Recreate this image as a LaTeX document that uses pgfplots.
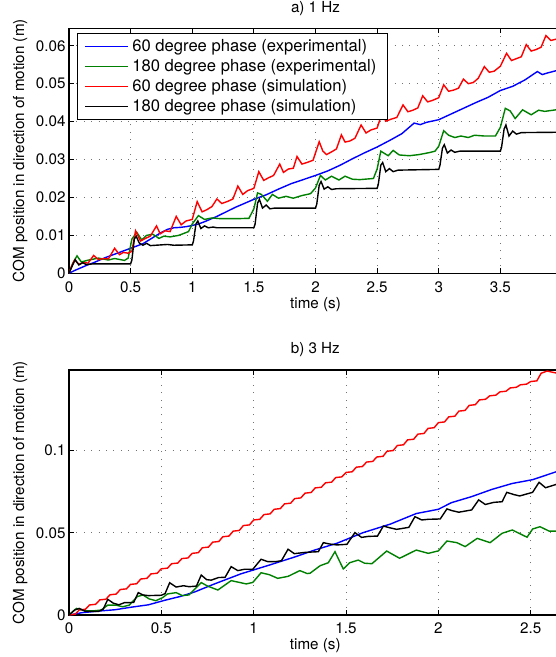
\documentclass[border=0pt]{standalone}
\usepackage{fontspec}
\setmainfont{TeX Gyre Heros}
\usepackage{pgfplots}
\pgfplotsset{compat=1.18}
\definecolor{mgreen}{rgb}{0,0.5,0}
\newcommand\legfont{\fontsize{16.6}{19}\selectfont}
\pgfplotsset{
  myaxis/.style={
    scale only axis, height=245pt,
    font=\fontsize{15.2}{17.5}\selectfont,
    /pgf/number format/assume math mode=true,
    tick align=inside, tick pos=both, major tick length=5pt,
    xmajorgrids, ymajorgrids,
    grid style={line width=0.9pt, dash pattern=on 0.9pt off 6.5pt, black!55},
    axis line style={line width=1.1pt},
    every tick/.style={black, line width=0.8pt},
    scaled ticks=false,
    yticklabel style={/pgf/number format/fixed, /pgf/number format/precision=2},
    xticklabel style={/pgf/number format/fixed, /pgf/number format/precision=1, yshift=-4.5pt},
    xlabel={time (s)},
    ylabel={COM position in direction of motion (m)},
    xlabel style={at={(axis description cs:0.5,-0.1265)}, anchor=center},
    title style={at={(axis description cs:0.5,1.057)}, anchor=center},
  }
}
\begin{document}
\begin{tikzpicture}
\useasboundingbox (0,0) rectangle (556pt,657pt);
% ---------------- a) 1 Hz
\begin{axis}[myaxis, at={(69pt,383.7pt)}, anchor=south west,
  width=493pt, xmin=0, xmax=4, ymin=0, ymax=0.0646,
  xtick={0,0.5,...,3.5}, ytick={0,0.01,...,0.06},
  ylabel style={at={(axis description cs:-0.0994,0.5)}, anchor=center},
  title={a) 1 Hz},
  legend style={at={(axis description cs:0.0168,0.9796)}, anchor=north west,
    inner xsep=7pt, inner ysep=3pt,
    nodes={inner xsep=3.5pt, inner ysep=3.2pt}, row sep=0pt,
    font=\legfont},
  legend cell align=left,
  legend image code/.code={\draw[#1] (0pt,0pt) -- (43pt,0pt);},
]
\addlegendimage{color=blue, line width=1.4pt}
\addlegendentry{\legfont 60 degree phase (experimental)}
\addlegendimage{color=mgreen, line width=1.4pt}
\addlegendentry{\legfont 180 degree phase (experimental)}
\addlegendimage{color=red, line width=1.4pt}
\addlegendentry{\legfont 60 degree phase (simulation)}
\addlegendimage{color=black, line width=1.4pt}
\addlegendentry{\legfont 180 degree phase (simulation)}
\addplot[blue, line width=1.4pt, forget plot] coordinates {
(0,0) (0.05,0.0008) (0.1,0.0015) (0.15,0.0022) (0.2,0.0028) (0.25,0.0035) (0.3,0.0042) (0.35,0.0048) (0.4,0.0054) (0.45,0.0060) (0.5,0.0066) (0.55,0.0072) (0.6,0.0078) (0.65,0.0088) (0.7,0.0098) (0.75,0.0108) (0.8,0.0116) (0.85,0.0120) (0.9,0.0121) (0.95,0.0123) (1.0,0.0126) (1.05,0.0130) (1.1,0.0136) (1.15,0.0143) (1.2,0.0150) (1.25,0.0158) (1.3,0.0166) (1.35,0.0174) (1.4,0.0181) (1.45,0.0188) (1.5,0.0195) (1.6,0.0207) (1.7,0.0222) (1.8,0.0236) (1.9,0.0247) (2.0,0.0258) (2.1,0.0270) (2.2,0.0285) (2.3,0.0302) (2.4,0.0318) (2.5,0.0333) (2.6,0.0350) (2.7,0.0368) (2.75,0.0382) (2.8,0.0396) (2.85,0.0392) (2.9,0.0398) (3.0,0.0405) (3.1,0.0420) (3.2,0.0435) (3.3,0.0450) (3.4,0.0464) (3.5,0.0482) (3.6,0.0493) (3.7,0.0510) (3.8,0.0532) (3.84,0.0524) (3.88,0.0528) (3.95,0.0534) (4.0,0.0535)
};
\addplot[mgreen, line width=1.4pt, forget plot] coordinates {
(0,0) (0.03,0.0026) (0.065,0.0046) (0.1,0.0030) (0.16,0.0035) (0.24,0.0040) (0.32,0.0035) (0.37,0.0039) (0.45,0.0034) (0.48,0.0040) (0.51,0.0090) (0.55,0.0108) (0.59,0.0088) (0.63,0.0100) (0.68,0.0103) (0.73,0.0092) (0.77,0.0098) (0.82,0.0096) (0.89,0.0100) (0.97,0.0110) (1.0,0.0130) (1.05,0.0152) (1.1,0.0142) (1.16,0.0146) (1.23,0.0144) (1.36,0.0144) (1.46,0.0145) (1.5,0.0170) (1.53,0.0212) (1.56,0.0208) (1.61,0.0190) (1.65,0.0208) (1.7,0.0198) (1.76,0.0203) (1.82,0.0198) (1.89,0.0205) (1.96,0.0210) (2.0,0.0225) (2.04,0.0258) (2.08,0.0246) (2.13,0.0256) (2.19,0.0246) (2.24,0.0256) (2.3,0.0248) (2.36,0.0247) (2.47,0.0250) (2.5,0.0275) (2.53,0.0322) (2.59,0.0310) (2.63,0.0324) (2.68,0.0312) (2.76,0.0310) (2.84,0.0313) (2.92,0.0318) (2.97,0.0322) (3.0,0.0335) (3.04,0.0376) (3.08,0.0364) (3.13,0.0358) (3.18,0.0362) (3.24,0.0358) (3.29,0.0364) (3.37,0.0362) (3.46,0.0362) (3.5,0.0385) (3.54,0.0435) (3.58,0.0428) (3.62,0.0408) (3.68,0.0431) (3.75,0.0418) (3.81,0.0430) (3.86,0.0427) (3.95,0.0431) (4.0,0.0432)
};
\addplot[red, line width=1.4pt, forget plot] coordinates {
(0,0) (0.02,0.0018) (0.045,0.0035) (0.08,0.0024) (0.12,0.0028) (0.155,0.0027) (0.2,0.0047) (0.24,0.0036) (0.28,0.0039) (0.32,0.0038) (0.37,0.0066) (0.41,0.0049) (0.44,0.0055) (0.48,0.0053) (0.51,0.0058) (0.54,0.0112) (0.58,0.0085) (0.62,0.0092) (0.66,0.0098) (0.71,0.0125) (0.74,0.0104) (0.78,0.0112) (0.82,0.0110) (0.87,0.0150) (0.91,0.0128) (0.95,0.0138) (1.0,0.0142) (1.04,0.0189) (1.08,0.0162) (1.12,0.0168) (1.16,0.0176) (1.2,0.0196) (1.24,0.0184) (1.29,0.0190) (1.33,0.0196) (1.37,0.0230) (1.41,0.0208) (1.45,0.0218) (1.5,0.0224) (1.54,0.0268) (1.58,0.0245) (1.62,0.0252) (1.66,0.0258) (1.71,0.0288) (1.74,0.0266) (1.78,0.0275) (1.82,0.0277) (1.85,0.0308) (1.89,0.0288) (1.93,0.0292) (1.98,0.0298) (2.03,0.0347) (2.06,0.0322) (2.09,0.0313) (2.14,0.0322) (2.17,0.0328) (2.21,0.0365) (2.24,0.0346) (2.28,0.0349) (2.32,0.0356) (2.37,0.0391) (2.41,0.0370) (2.45,0.0378) (2.5,0.0383) (2.54,0.0422) (2.57,0.0401) (2.61,0.0406) (2.66,0.0411) (2.71,0.0444) (2.75,0.0426) (2.79,0.0430) (2.83,0.0436) (2.87,0.0468) (2.91,0.0452) (2.95,0.0456) (3.0,0.0463) (3.04,0.0497) (3.08,0.0480) (3.12,0.0483) (3.16,0.0488) (3.2,0.0512) (3.24,0.0500) (3.28,0.0503) (3.32,0.0514) (3.37,0.0545) (3.41,0.0530) (3.45,0.0533) (3.5,0.0546) (3.55,0.0580) (3.59,0.0561) (3.63,0.0566) (3.67,0.0571) (3.71,0.0603) (3.75,0.0586) (3.79,0.0590) (3.83,0.0596) (3.87,0.0627) (3.91,0.0614) (3.96,0.0618) (4.0,0.0622)
};
\addplot[black, line width=1.4pt, forget plot] coordinates {
(0,0) (0.02,0.0015) (0.05,0.0036) (0.08,0.0022) (0.11,0.0028) (0.14,0.0023) (0.2,0.0025) (0.5,0.0025) (0.51,0.0035) (0.53,0.0090) (0.545,0.0098) (0.57,0.0080) (0.6,0.0074) (0.63,0.0079) (0.66,0.0073) (0.75,0.0075) (0.8,0.0076) (0.85,0.0074) (1.0,0.0075) (1.01,0.0085) (1.03,0.0130) (1.045,0.0138) (1.07,0.0118) (1.1,0.0125) (1.13,0.0120) (1.17,0.0122) (1.2,0.0120) (1.5,0.0120) (1.51,0.0130) (1.53,0.0185) (1.545,0.0195) (1.57,0.0172) (1.6,0.0180) (1.63,0.0170) (1.67,0.0172) (2.0,0.0172) (2.01,0.0182) (2.03,0.0232) (2.045,0.0242) (2.07,0.0222) (2.1,0.0228) (2.13,0.0221) (2.17,0.0223) (2.5,0.0224) (2.51,0.0235) (2.53,0.0285) (2.545,0.0292) (2.57,0.0268) (2.6,0.0276) (2.63,0.0268) (2.67,0.0272) (3.0,0.0274) (3.01,0.0285) (3.03,0.0330) (3.045,0.0339) (3.07,0.0317) (3.1,0.0325) (3.13,0.0319) (3.17,0.0322) (3.5,0.0322) (3.51,0.0333) (3.53,0.0380) (3.545,0.0391) (3.57,0.0362) (3.6,0.0375) (3.63,0.0367) (3.67,0.0371) (4.0,0.0372)
};
\end{axis}
% ---------------- b) 3 Hz
\begin{axis}[myaxis, at={(69pt,42pt)}, anchor=south west,
  width=492.6pt, xmin=0, xmax=2.667, ymin=0, ymax=0.149,
  xtick={0,0.5,...,2.5}, ytick={0,0.05,0.1},
  ylabel style={at={(axis description cs:-0.0995,0.5)}, anchor=center},
  title={b) 3 Hz},
]
\addplot[blue, line width=1.4pt] coordinates {
(0,0) (0.07,0.0014) (0.16,0.0024) (0.25,0.0032) (0.34,0.0048) (0.43,0.0062) (0.52,0.0090) (0.6,0.0112) (0.68,0.0140) (0.79,0.0190) (0.93,0.0250) (1.08,0.0302) (1.22,0.0352) (1.33,0.0395) (1.45,0.0436) (1.59,0.0500) (1.74,0.0553) (1.88,0.0617) (2.0,0.0643) (2.07,0.0683) (2.18,0.0720) (2.29,0.0764) (2.4,0.0800) (2.51,0.0823) (2.64,0.0872) (2.667,0.0878)
};
\addplot[mgreen, line width=1.4pt] coordinates {
(0,0) (0.04,0.004) (0.085,0.0026) (0.13,0.0025) (0.174,0.003) (0.21,0.006) (0.255,0.006) (0.29,0.005) (0.326,0.006) (0.37,0.0112) (0.4,0.0122) (0.434,0.0098) (0.47,0.0087) (0.506,0.0105) (0.533,0.0128) (0.58,0.0136) (0.614,0.0118) (0.65,0.0122) (0.716,0.0197) (0.752,0.0175) (0.806,0.0152) (0.878,0.0209) (0.96,0.0189) (0.995,0.0198) (1.04,0.0257) (1.085,0.0245) (1.13,0.0223) (1.186,0.0235) (1.25,0.0270) (1.29,0.0252) (1.305,0.0254) (1.36,0.0300) (1.404,0.0318) (1.44,0.0385) (1.485,0.0280) (1.52,0.0318) (1.566,0.0334) (1.6,0.0315) (1.64,0.0312) (1.72,0.0389) (1.79,0.0345) (1.88,0.0395) (1.945,0.0375) (2.0,0.0390) (2.046,0.0450) (2.1,0.0440) (2.145,0.0416) (2.21,0.0466) (2.28,0.0440) (2.345,0.0497) (2.4,0.0517) (2.48,0.0473) (2.51,0.0523) (2.55,0.0537) (2.6,0.0510) (2.667,0.0510)
};
\addplot[red, line width=1.4pt] coordinates {
(0,0) (0.033,0.0005) (0.056,0.0031) (0.089,0.0035) (0.111,0.0061) (0.144,0.0065) (0.167,0.0092) (0.2,0.0096) (0.222,0.0123) (0.255,0.0127) (0.278,0.0155) (0.311,0.0159) (0.333,0.0186) (0.366,0.0190) (0.389,0.0219) (0.422,0.0223) (0.444,0.0250) (0.477,0.0254) (0.5,0.0281) (0.533,0.0285) (0.556,0.0312) (0.589,0.0316) (0.611,0.0343) (0.644,0.0347) (0.667,0.0375) (0.7,0.0379) (0.722,0.0409) (0.755,0.0413) (0.778,0.0443) (0.811,0.0447) (0.833,0.0476) (0.866,0.0480) (0.889,0.0510) (0.922,0.0514) (0.944,0.0544) (0.977,0.0548) (1.0,0.0578) (1.033,0.0582) (1.056,0.0611) (1.089,0.0615) (1.111,0.0643) (1.144,0.0647) (1.167,0.0676) (1.2,0.0680) (1.222,0.0708) (1.255,0.0712) (1.278,0.0741) (1.311,0.0745) (1.333,0.0773) (1.366,0.0777) (1.389,0.0804) (1.422,0.0808) (1.444,0.0836) (1.477,0.0840) (1.5,0.0867) (1.533,0.0871) (1.556,0.0899) (1.589,0.0903) (1.611,0.0930) (1.644,0.0934) (1.667,0.0961) (1.7,0.0965) (1.722,0.0996) (1.755,0.1000) (1.778,0.1031) (1.811,0.1035) (1.833,0.1065) (1.866,0.1069) (1.889,0.1100) (1.922,0.1104) (1.944,0.1135) (1.977,0.1139) (2.0,0.1170) (2.033,0.1174) (2.056,0.1205) (2.089,0.1209) (2.111,0.1240) (2.144,0.1244) (2.167,0.1275) (2.2,0.1279) (2.222,0.1308) (2.255,0.1312) (2.278,0.1333) (2.311,0.1337) (2.333,0.1357) (2.366,0.1361) (2.389,0.1381) (2.422,0.1385) (2.444,0.1400) (2.477,0.1404) (2.5,0.1420) (2.533,0.1424) (2.556,0.1470) (2.589,0.1484) (2.611,0.1478) (2.644,0.1470) (2.667,0.1466)
};
\addplot[black, line width=1.4pt] coordinates {
(0,0) (0.03,0.003) (0.055,0.004) (0.09,0.0022) (0.16,0.0022) (0.185,0.0035) (0.21,0.0095) (0.24,0.0072) (0.27,0.0062) (0.3,0.0075) (0.35,0.0076) (0.375,0.0136) (0.4,0.0122) (0.43,0.0118) (0.5,0.0120) (0.52,0.0130) (0.545,0.0196) (0.58,0.0170) (0.62,0.0178) (0.65,0.0172) (0.69,0.0176) (0.716,0.0243) (0.745,0.0215) (0.77,0.0212) (0.81,0.0228) (0.845,0.0229) (0.878,0.0294) (0.914,0.0270) (0.95,0.0278) (0.995,0.0278) (1.04,0.0339) (1.075,0.0325) (1.12,0.0325) (1.15,0.0330) (1.186,0.0400) (1.22,0.0373) (1.28,0.0381) (1.35,0.0385) (1.377,0.0440) (1.41,0.0432) (1.45,0.0426) (1.505,0.0430) (1.548,0.0501) (1.584,0.0472) (1.62,0.0478) (1.67,0.0480) (1.702,0.0541) (1.738,0.0530) (1.774,0.0521) (1.84,0.0533) (1.873,0.0598) (1.91,0.0578) (1.945,0.0582) (2.01,0.0584) (2.046,0.0645) (2.073,0.0635) (2.11,0.0625) (2.18,0.0639) (2.218,0.0700) (2.254,0.0672) (2.3,0.0685) (2.345,0.0689) (2.37,0.0746) (2.41,0.0732) (2.44,0.0724) (2.51,0.0746) (2.545,0.0807) (2.58,0.0774) (2.64,0.0795) (2.667,0.0795)
};
\end{axis}
\end{tikzpicture}
\end{document}
